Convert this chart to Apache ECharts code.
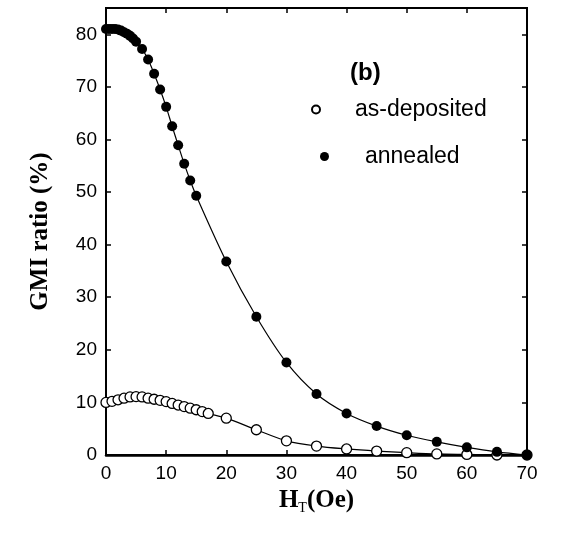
<!DOCTYPE html>
<html><head><meta charset="utf-8">
<script src="https://cdn.jsdelivr.net/npm/echarts@6/dist/echarts.min.js"></script>
<style>html,body{margin:0;padding:0;background:#fff}#c{width:569px;height:533px}</style>
</head><body><div id="c"></div>
<script>
const xTicks = [0, 10, 20, 30, 40, 50, 60, 70];
const yTicks = [0, 10, 20, 30, 40, 50, 60, 70, 80];

const asDepositedX = [0,1,2,3,4,5,6,7,8,9,10,11,12,13,14,15,16,17,20,25,30,35,40,45,50,55,60,65,70];
const asDepositedY = [10.0,10.2,10.5,10.8,11.05,11.1,11.05,10.8,10.6,10.4,10.15,9.8,9.5,9.2,8.9,8.6,8.25,7.9,7.0,4.8,2.7,1.7,1.15,0.75,0.45,0.2,0.1,0,0];

const annealedX = [0,0.5,1,1.5,2,2.5,3,3.5,4,4.5,5,6,7,8,9,10,11,12,13,14,15,20,25,30,35,40,45,50,55,60,65,70];
const annealedY = [81,81,81,81,80.9,80.7,80.4,80.1,79.7,79.2,78.6,77.2,75.2,72.5,69.5,66.2,62.5,58.9,55.4,52.2,49.3,36.8,26.3,17.6,11.6,7.9,5.5,3.75,2.5,1.45,0.6,0];

const seriesNames = ['as-deposited', 'annealed'];
const panelLabel = '(b)';

const zip = (xs, ys) => xs.map((x, i) => [x, ys[i]]);
const sans = 'Liberation Sans';
const serif = 'Liberation Serif';

const chart = echarts.init(document.getElementById('c'), null, {renderer: 'canvas'});

const tickStyle = {show: true, inside: true, length: 5, lineStyle: {color: '#000', width: 1.5}};
const lineAxis = {show: true, onZero: false, lineStyle: {color: '#000', width: 2}};

chart.setOption({
  animation: false,
  backgroundColor: '#fff',
  grid: {left: 106, right: 42, top: 8, bottom: 78, containLabel: false,
         show: true, borderColor: '#000', borderWidth: 2, backgroundColor: 'transparent'},
  xAxis: [{
    type: 'value', min: 0, max: 70, interval: 10, position: 'bottom',
    axisLine: {show: true, onZero: false, lineStyle: {color: '#000', width: 2.5}},
    axisTick: Object.assign({customValues: xTicks}, tickStyle),
    axisLabel: {customValues: xTicks, color: '#000', fontFamily: sans, fontSize: 19, margin: 9},
    splitLine: {show: false},
    name: '{a|H}{b|T}{a|(Oe)}',
    nameLocation: 'middle', nameGap: 28,
    nameTextStyle: {
      rich: {
        a: {fontFamily: serif, fontWeight: 'bold', fontSize: 25, color: '#000'},
        b: {fontFamily: serif, fontWeight: 'normal', fontSize: 14, color: '#000', padding: [16, 0, 0, 0]}
      }
    }
  }, {
    type: 'value', min: 0, max: 70, interval: 10, position: 'top',
    axisLine: lineAxis,
    axisTick: Object.assign({customValues: xTicks}, tickStyle),
    axisLabel: {show: false}, splitLine: {show: false}
  }],
  yAxis: [{
    type: 'value', min: 0, max: 85, position: 'left',
    axisLine: lineAxis,
    axisTick: Object.assign({customValues: yTicks}, tickStyle),
    axisLabel: {customValues: yTicks, color: '#000', fontFamily: sans, fontSize: 19, margin: 9},
    splitLine: {show: false},
    name: 'GMI ratio (%)',
    nameLocation: 'middle', nameGap: 53,
    nameTextStyle: {fontFamily: serif, fontWeight: 'bold', fontSize: 25, color: '#000'}
  }, {
    type: 'value', min: 0, max: 85, position: 'right',
    axisLine: lineAxis,
    axisTick: Object.assign({customValues: yTicks}, tickStyle),
    axisLabel: {show: false}, splitLine: {show: false}
  }],
  legend: [{
    data: [seriesNames[0]], orient: 'vertical', left: 306, top: 93,
    itemWidth: 68, itemHeight: 8, icon: 'circle',
    textStyle: {fontFamily: sans, fontSize: 23, color: '#000'}
  }, {
    data: [seriesNames[1]], orient: 'vertical', left: 315, top: 140,
    itemWidth: 71, itemHeight: 9, icon: 'circle',
    textStyle: {fontFamily: sans, fontSize: 23, color: '#000'}
  }],
  graphic: [{
    type: 'text', left: 350, top: 61,
    style: {text: panelLabel, font: 'bold 24px "Liberation Sans"', fill: '#000'}
  }],
  series: [{
    name: seriesNames[0], type: 'line', data: zip(asDepositedX, asDepositedY),
    symbol: 'circle', symbolSize: 10, smooth: 0.3,
    lineStyle: {color: '#000', width: 1.2},
    itemStyle: {color: '#fff', borderColor: '#000', borderWidth: 1.3},
    z: 2
  }, {
    name: seriesNames[1], type: 'line', data: zip(annealedX, annealedY),
    symbol: 'circle', symbolSize: 10, smooth: 0.3,
    lineStyle: {color: '#000', width: 1.2},
    itemStyle: {color: '#000', borderColor: '#000', borderWidth: 0},
    z: 3
  }]
});
</script></body></html>
